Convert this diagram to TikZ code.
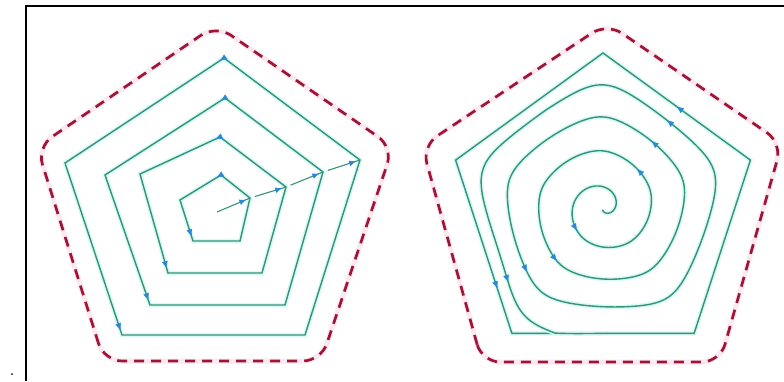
\documentclass[tikz,border=0pt]{standalone}
\usetikzlibrary{arrows.meta,decorations.markings,calc}
\definecolor{trajcol}{RGB}{55,145,118}
\definecolor{halocol}{RGB}{215,250,246}
\definecolor{arrblue}{RGB}{45,135,215}
\definecolor{dashred}{RGB}{160,20,55}
\definecolor{pinkhalo}{RGB}{252,232,240}
\begin{document}
\begin{tikzpicture}[x=1pt,y=-1pt,
  traj/.style={draw=trajcol, line width=1.4pt, line join=miter,
    preaction={draw=halocol, line width=4.5pt}},
  radial/.style={draw=trajcol, line width=1.1pt},
  bound/.style={draw=dashred, line width=2.7pt, dash pattern=on 10pt off 7pt,
    rounded corners=18pt},
  boundhalo/.style={draw=pinkhalo, line width=5pt, rounded corners=18pt},
  tipat/.style={postaction={decorate}, decoration={markings,
    mark=at position #1 with {\arrow{Latex[length=7pt,width=6pt,color=arrblue]}}}},
  declare function={
    Sfun(\t)=min(155,12+0.103*min(\t,1200)+0.02*max(0,\t-1200)+0.082*(max(0,\t-1270)/10)^3);
    sfun(\t)=max(0,min(1,(\t-150)/1200));
    phif(\t)=mod(\t+702,72)-36;
    Mp(\t)=(cos(phif(\t))^8+cos(72-abs(phif(\t)))^8)^0.125;
    gfun(\t)=1-sfun(\t)+sfun(\t)*cos(36)/Mp(\t);
    rfun(\t)=Sfun(\t)*gfun(\t);
    Xf(\t)=603+rfun(\t)*cos(\t);
    Yf(\t)=208-rfun(\t)*sin(\t);
  }]
\useasboundingbox (0,0) rectangle (784,381);

% frame and dot
\coordinate (fb) at (26,381);
\coordinate (fc) at (26,6);
\coordinate (fr) at (784,6);
\draw[line width=1.5pt] (fb) -- (fc) -- (fr);
\node[font=\fontsize{22}{22}\selectfont, inner sep=0pt, anchor=base] (dot) at (12,375.5) {.};

% ---------------- left panel ----------------
\coordinate (dA) at (216,25);
\coordinate (dL) at (37,147);
\coordinate (dBL) at (104,361);
\coordinate (dBR) at (321,361);
\coordinate (dR) at (393,147);
\draw[boundhalo] (dBL) -- (dL) -- (dA) -- (dR) -- (dBR) -- cycle;
\draw[bound] (dBL) -- (dL) -- (dA) -- (dR) -- (dBR) -- cycle;

\coordinate (C0) at (217,212);
\coordinate (A1) at (221,175); \coordinate (L1) at (180,200);
\coordinate (BL1) at (193,241); \coordinate (BR1) at (240,241); \coordinate (R1) at (250,198);
\coordinate (A2) at (220,137); \coordinate (L2) at (140,174);
\coordinate (BL2) at (168,273); \coordinate (BR2) at (262,273); \coordinate (R2) at (286,187);
\coordinate (A3) at (225,98); \coordinate (L3) at (105,175);
\coordinate (BL3) at (150,305); \coordinate (BR3) at (285,305); \coordinate (R3) at (323,172);
\coordinate (A4) at (224,58); \coordinate (L4) at (65,163);
\coordinate (BL4) at (122,335); \coordinate (BR4) at (305,335); \coordinate (R4) at (360,160);

\foreach \i in {1,2,3,4}{
  \draw[traj] (R\i) -- (A\i) -- (L\i) -- (BL\i) -- (BR\i) -- cycle;
  \path[tipat=5pt] (A\i) -- (L\i);
  \path[tipat=-5pt] (L\i) -- (BL\i);
}
\draw[radial, tipat=-4pt, shorten >=1pt] (C0) -- (R1);
\draw[radial, tipat=-4pt, shorten <=5pt, shorten >=1pt] (R1) -- (R2);
\draw[radial, tipat=-4pt, shorten <=5pt, shorten >=1pt] (R2) -- (R3);
\draw[radial, tipat=-4pt, shorten <=5pt, shorten >=1pt] (R3) -- (R4);

% ---------------- right panel ----------------
\coordinate (eA) at (607,23);
\coordinate (eL) at (422,146);
\coordinate (eBL) at (482,362);
\coordinate (eBR) at (720,362);
\coordinate (eR) at (782,143);
\draw[boundhalo] (eBL) -- (eL) -- (eA) -- (eR) -- (eBR) -- cycle;
\draw[bound] (eBL) -- (eL) -- (eA) -- (eR) -- (eBR) -- cycle;

\coordinate (pA) at (603,53);
\coordinate (pL) at (455.6,160.1);
\coordinate (pBL) at (511.9,333.4);
\coordinate (pBR) at (694.1,333.4);
\coordinate (pR) at (750.4,160.1);
\draw[traj] (pR) -- (pA) -- (pL) -- (pBL) -- (pBR) -- cycle;
\path[tipat=0.5] (pR) -- (pA);
\path[tipat=0.74] (pL) -- (pBL);

\draw[traj] plot[domain=-100:1350, samples=900, variable=\t] ({Xf(\t)},{Yf(\t)});
\foreach \th in {221,409,589,774,940,1134,1298}{
  \path[tipat=1] ({Xf(\th-2)},{Yf(\th-2)}) -- ({Xf(\th)},{Yf(\th)});
}
\end{tikzpicture}
\end{document}
